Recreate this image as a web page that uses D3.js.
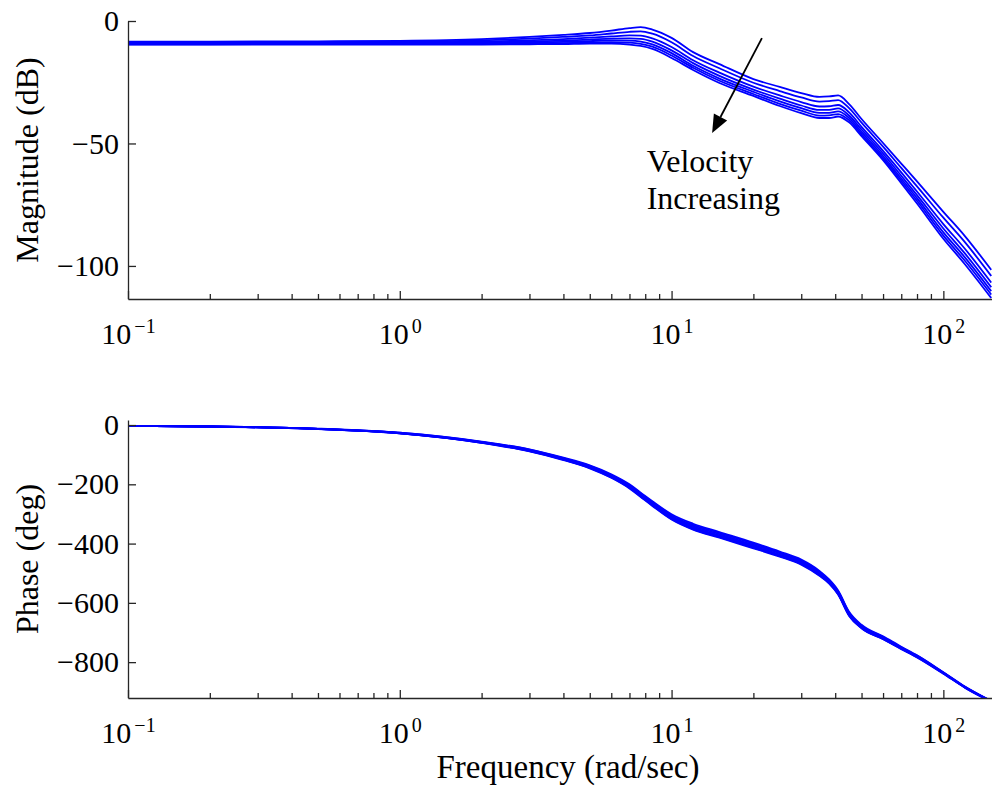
<!DOCTYPE html>
<html>
<head>
<meta charset="utf-8">
<script src="https://cdn.jsdelivr.net/npm/d3@7"></script>
<style>
  body { margin: 0; background: #fff; }
  text { font-family: "Liberation Serif", "Times New Roman", serif; fill: #000; }
</style>
</head>
<body>
<div id="chart"></div>
<script>
// frequencies (rad/sec) shared by every curve
var freq = [0.1, 0.2, 0.5, 1, 2, 3, 4, 5, 6, 7, 7.7, 8.5, 10, 12, 15, 20, 25, 30, 35, 38, 41, 45, 50, 60, 70, 80, 100, 120, 150];

// magnitude (dB), one array per velocity (lowest velocity first)
var magV1 = [-8.4, -8.4, -8.3, -8.1, -7.4, -6.5, -5.7, -4.9, -3.9, -2.9, -2.5, -3.5, -6.9, -12.7, -17.6, -23.7, -26.9, -29.4, -31.0, -30.8, -30.4, -33.9, -40.0, -49.8, -58.2, -65.5, -77.9, -87.8, -101.6];
var magV2 = [-8.7, -8.7, -8.6, -8.4, -7.9, -7.2, -6.5, -5.9, -5.1, -4.4, -4.2, -5.2, -8.7, -14.3, -19.3, -25.2, -28.6, -31.2, -32.9, -32.7, -32.3, -35.6, -41.5, -51.3, -60.0, -67.5, -80.3, -90.3, -104.1];
var magV3 = [-8.9, -8.9, -8.9, -8.8, -8.4, -7.9, -7.4, -6.8, -6.3, -5.9, -6.0, -7.1, -10.6, -16.0, -21.1, -26.8, -30.4, -33.1, -34.9, -34.8, -34.3, -37.3, -43.2, -53.0, -61.8, -69.6, -82.9, -93.0, -106.8];
var magV4 = [-9.1, -9.1, -9.1, -9.0, -8.8, -8.4, -8.0, -7.6, -7.2, -7.1, -7.3, -8.4, -12.0, -17.2, -22.4, -28.0, -31.7, -34.5, -36.3, -36.3, -35.7, -38.6, -44.3, -54.1, -63.2, -71.1, -84.7, -94.9, -108.7];
var magV5 = [-9.3, -9.3, -9.3, -9.2, -9.1, -8.8, -8.5, -8.2, -7.9, -8.0, -8.4, -9.5, -13.1, -18.3, -23.5, -28.9, -32.8, -35.6, -37.5, -37.5, -36.9, -39.6, -45.3, -55.1, -64.3, -72.3, -86.3, -96.5, -110.3];
var magV6 = [-9.5, -9.5, -9.4, -9.4, -9.3, -9.1, -9.0, -8.7, -8.6, -8.8, -9.3, -10.5, -14.1, -19.1, -24.4, -29.8, -33.8, -36.6, -38.6, -38.5, -38.0, -40.5, -46.2, -56.0, -65.2, -73.4, -87.6, -97.9, -111.7];
var magV7 = [-9.6, -9.6, -9.6, -9.6, -9.6, -9.5, -9.4, -9.2, -9.2, -9.6, -10.2, -11.4, -15.1, -20.0, -25.3, -30.6, -34.7, -37.6, -39.6, -39.6, -39.0, -41.4, -47.0, -56.8, -66.2, -74.5, -88.9, -99.3, -113.1];

// phase (deg), one array per velocity
var phaseV1 = [-3, -5, -12, -26, -56, -82, -110, -136, -166, -200, -228, -257, -301, -333, -361, -397, -427, -454, -492, -521, -558, -630, -674, -713, -748, -777, -834, -882, -931];
var phaseV2 = [-3, -5, -13, -26, -57, -83, -112, -138, -169, -203, -231, -260, -305, -337, -364, -400, -430, -457, -495, -524, -561, -633, -677, -715, -750, -778, -835, -883, -931];
var phaseV3 = [-3, -5, -13, -27, -58, -85, -114, -141, -171, -206, -234, -264, -309, -341, -368, -404, -433, -460, -498, -527, -564, -636, -679, -718, -752, -780, -836, -884, -932];
var phaseV4 = [-3, -5, -13, -27, -58, -86, -115, -142, -173, -209, -237, -267, -312, -345, -372, -408, -437, -464, -502, -530, -567, -639, -681, -719, -753, -781, -837, -884, -932];
var phaseV5 = [-3, -5, -13, -28, -59, -87, -116, -144, -175, -211, -239, -269, -315, -348, -375, -411, -440, -467, -505, -532, -569, -641, -683, -721, -754, -782, -837, -885, -933];
var phaseV6 = [-3, -5, -13, -28, -60, -88, -117, -145, -177, -212, -241, -271, -317, -351, -378, -414, -442, -469, -507, -533, -570, -642, -685, -722, -755, -783, -838, -886, -933];
var phaseV7 = [-3, -5, -14, -28, -60, -89, -118, -146, -178, -214, -243, -273, -319, -353, -380, -416, -444, -471, -509, -535, -572, -644, -686, -723, -756, -784, -839, -886, -934];

// tick values
var xTicks = [0.1, 1, 10, 100];
var xTickExp = ["\u22121", "0", "1", "2"];
var magTicks = [0, -50, -100];
var phaseTicks = [0, -200, -400, -600, -800];

// annotation (data coordinates of the magnitude plot)
var arrowFrom = [21.5, -7];
var arrowTo = [14.1, -45.7];
var noteAt = [8.1, -61.5];
var noteLines = ["Velocity", "Increasing"];

var magSeries = [magV1, magV2, magV3, magV4, magV5, magV6, magV7];
var phaseSeries = [phaseV1, phaseV2, phaseV3, phaseV4, phaseV5, phaseV6, phaseV7];

var svgWidth = 992, svgHeight = 786;
var left = 128, right = 992;

var svg = d3.select('#chart')
    .append('svg')
    .attr('width', svgWidth)
    .attr('height', svgHeight)
    .style('display', 'block');

svg.append('rect').attr('width', svgWidth).attr('height', svgHeight).attr('fill', '#fff');

var x = d3.scaleLog()
    .domain([0.1, 151])
    .range([left, right]);

var yMag = d3.scaleLinear().domain([-113.5, 0]).range([299, 21]);
var yPhase = d3.scaleLinear().domain([-921, 17]).range([698, 420]);

// minor tick values 2..9 per decade
var minorTicks = [];
[0.1, 1, 10, 100].forEach(function(d) {
    for (var k = 2; k <= 9; k++) {
        var v = d * k;
        if (v <= 151) minorTicks.push(v);
    }
});

function drawPanel(y, yTicks, series, label, id) {
    var top = y.range()[1], bottom = y.range()[0];

    svg.append('clipPath').attr('id', id)
        .append('rect')
        .attr('x', left).attr('y', top)
        .attr('width', right - left).attr('height', bottom - top);

    var line = d3.line()
        .x(function(d, i) { return x(freq[i]); })
        .y(function(d) { return y(d); })
        .curve(d3.curveMonotoneX);

    svg.append('g')
        .attr('clip-path', 'url(#' + id + ')')
        .selectAll('path')
        .data(series)
        .enter()
        .append('path')
        .attr('d', line)
        .attr('fill', 'none')
        .attr('stroke', '#0000ff')
        .attr('stroke-width', 1.8);

    // y axis, ticks pointing inward
    var yAxis = svg.append('g')
        .attr('transform', 'translate(' + left + ',0)')
        .call(d3.axisLeft(y).tickValues(yTicks).tickSizeInner(-8).tickSizeOuter(0).tickPadding(9));
    yAxis.selectAll('text').style('font-size', '30px').style('font-family', '"Liberation Serif", serif').attr('fill', '#000');

    // x axis minor ticks
    svg.append('g')
        .attr('transform', 'translate(0,' + bottom + ')')
        .call(d3.axisBottom(x).tickValues(minorTicks).tickSizeInner(-5).tickSizeOuter(0).tickFormat(''))
        .select('.domain').remove();

    // x axis major ticks
    var xAxis = svg.append('g')
        .attr('transform', 'translate(0,' + bottom + ')')
        .call(d3.axisBottom(x).tickValues(xTicks).tickSizeInner(-8).tickSizeOuter(0).tickFormat(''));

    xAxis.selectAll('.tick').each(function(d, i) {
        var t = d3.select(this).append('text')
            .attr('y', 45)
            .attr('text-anchor', 'middle')
            .attr('fill', '#000')
            .style('font-family', '"Liberation Serif", serif');
        t.append('tspan').style('font-size', '30px').text('10');
        t.append('tspan').attr('dx', 3).attr('dy', -11).style('font-size', '20px').text(xTickExp[i]);
    });

    svg.selectAll('.domain, .tick line')
        .attr('stroke', '#262626')
        .attr('stroke-width', 1.3);

    svg.append('text')
        .attr('transform', 'translate(38,' + ((top + bottom) / 2) + ') rotate(-90)')
        .attr('text-anchor', 'middle')
        .style('font-size', '32px')
        .text(label);
}

drawPanel(yMag, magTicks, magSeries, 'Magnitude (dB)', 'clipMag');
drawPanel(yPhase, phaseTicks, phaseSeries, 'Phase (deg)', 'clipPhase');

// x label
svg.append('text')
    .attr('x', 568)
    .attr('y', 778)
    .attr('text-anchor', 'middle')
    .style('font-size', '33px')
    .text('Frequency (rad/sec)');

// arrow annotation
var x1 = x(arrowFrom[0]), y1 = yMag(arrowFrom[1]);
var x2 = x(arrowTo[0]), y2 = yMag(arrowTo[1]);
var ang = Math.atan2(y2 - y1, x2 - x1);
var headLen = 18, headHalf = 7.5;
var bx = x2 - headLen * Math.cos(ang), by = y2 - headLen * Math.sin(ang);

svg.append('line')
    .attr('x1', x1).attr('y1', y1)
    .attr('x2', bx).attr('y2', by)
    .attr('stroke', '#000')
    .attr('stroke-width', 1.8);

svg.append('path')
    .attr('d', 'M' + x2 + ',' + y2 +
        'L' + (bx + headHalf * Math.sin(ang)) + ',' + (by - headHalf * Math.cos(ang)) +
        'L' + (bx - headHalf * Math.sin(ang)) + ',' + (by + headHalf * Math.cos(ang)) + 'Z')
    .attr('fill', '#000');

svg.append('text')
    .attr('x', x(noteAt[0]))
    .attr('y', yMag(noteAt[1]))
    .style('font-size', '32px')
    .selectAll('tspan')
    .data(noteLines)
    .enter()
    .append('tspan')
    .attr('x', x(noteAt[0]))
    .attr('dy', function(d, i) { return i === 0 ? 0 : 37.6; })
    .text(function(d) { return d; });
</script>
</body>
</html>
